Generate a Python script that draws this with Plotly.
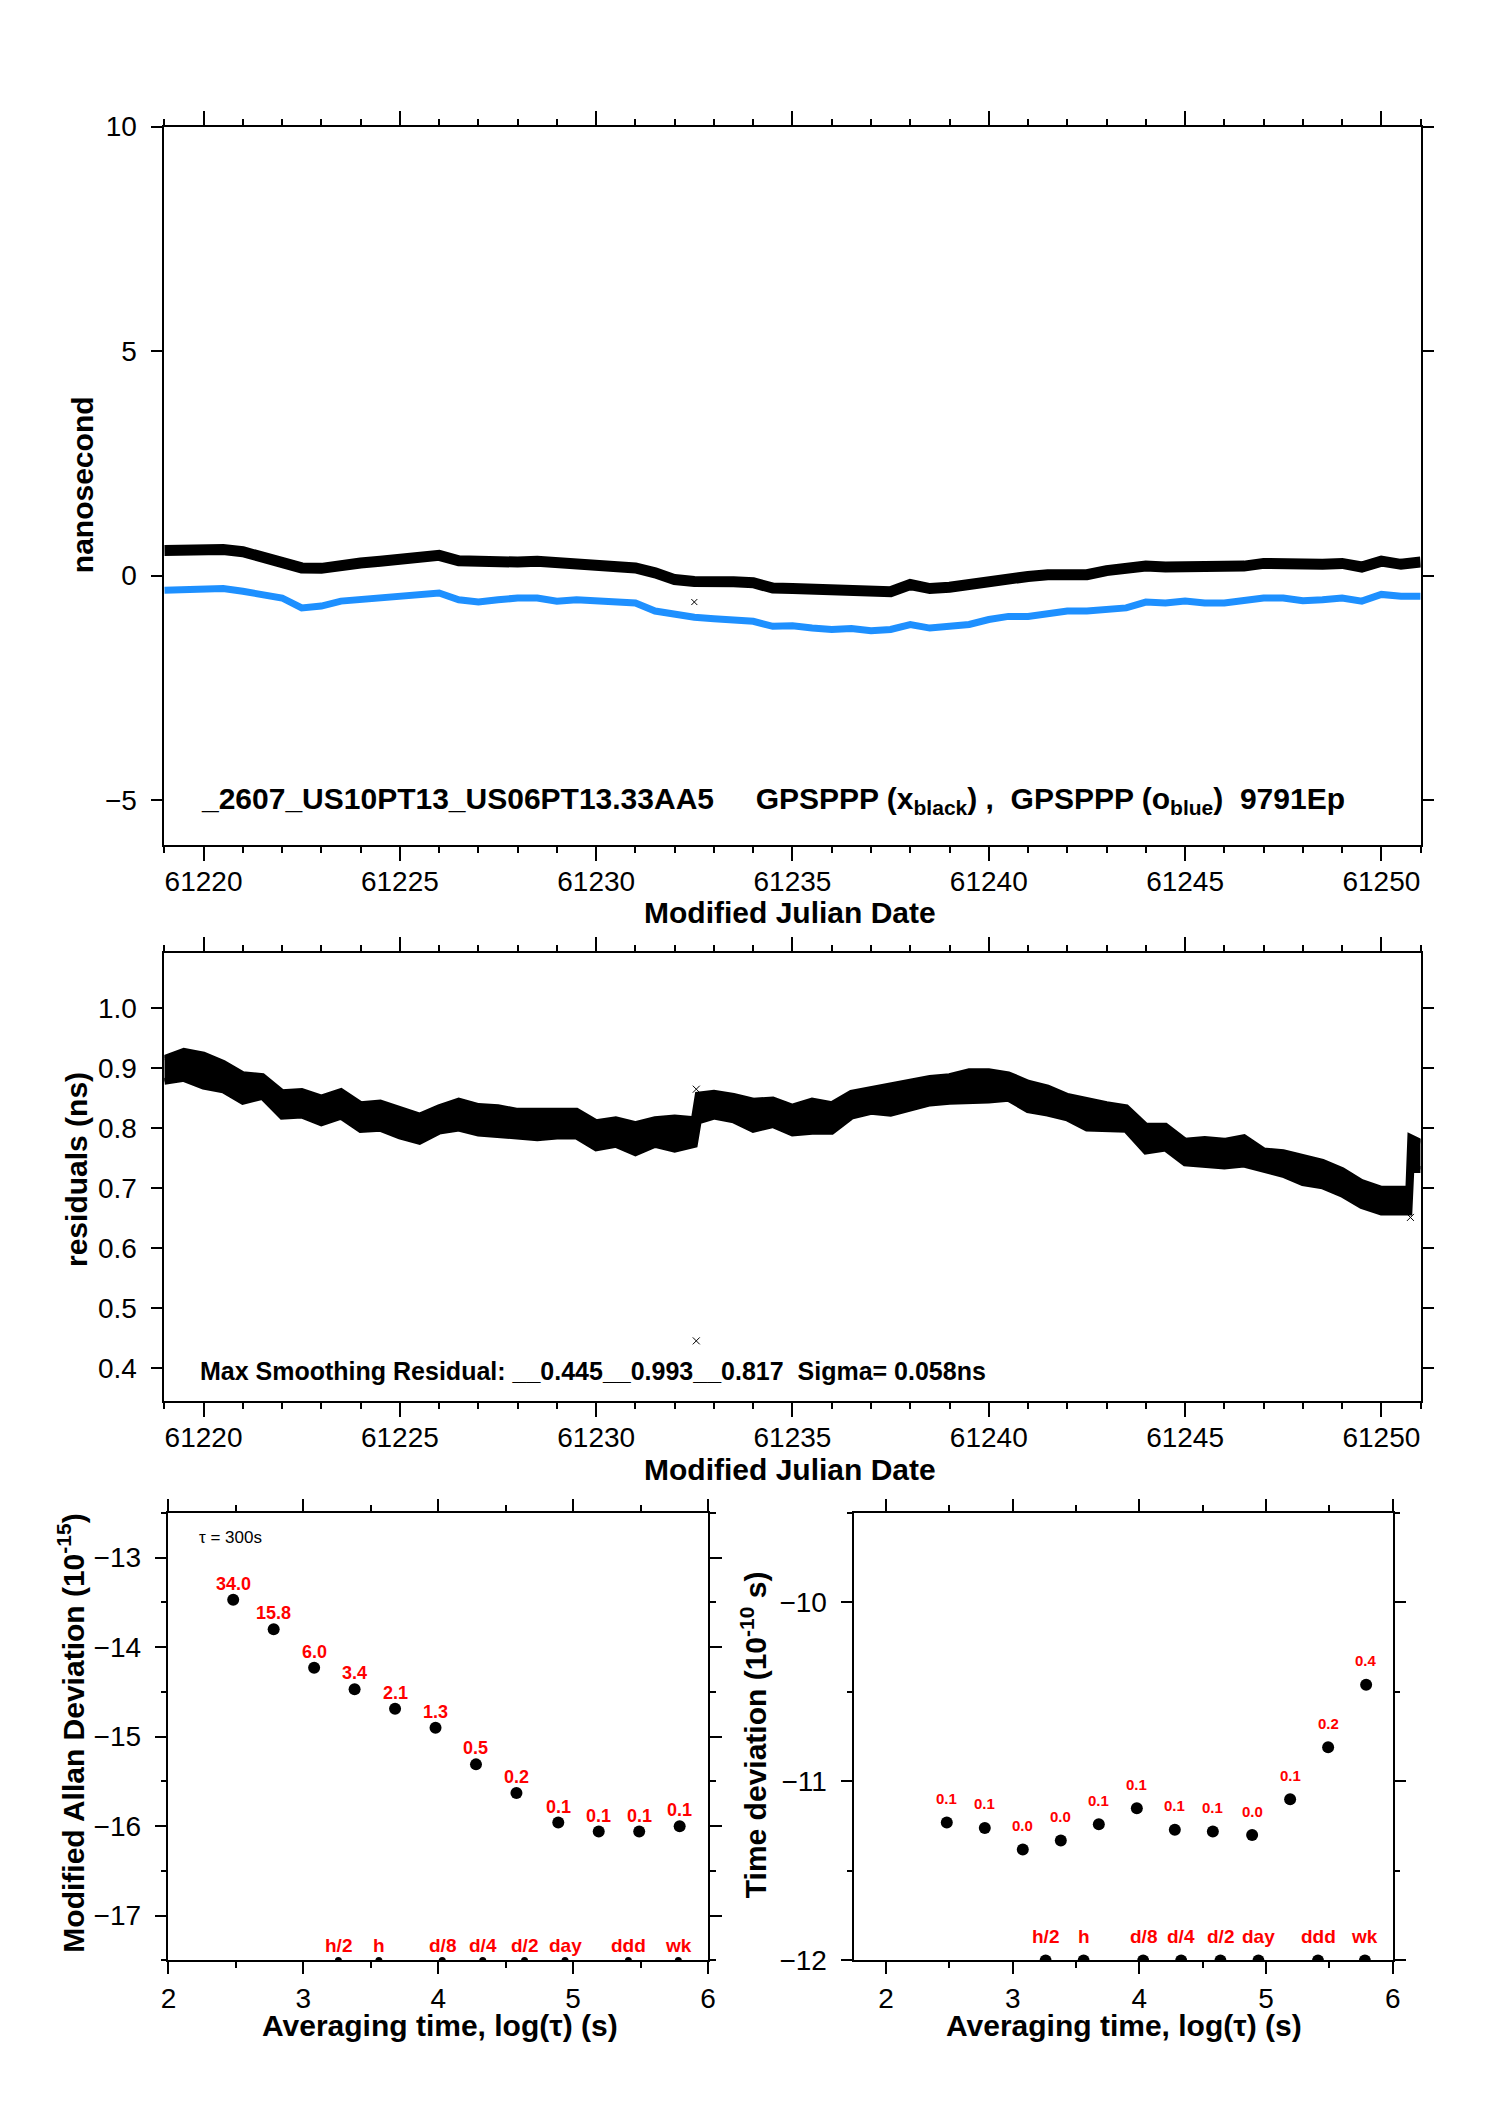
import plotly.graph_objects as go

# ---- data ----
# top panel: two clock-comparison series (ns), sampled every half day
MJD = [61219.0, 61219.5, 61220.0, 61220.5, 61221.0, 61221.5, 61222.0, 61222.5,
       61223.0, 61223.5, 61224.0, 61224.5, 61225.0, 61225.5, 61226.0, 61226.5,
       61227.0, 61227.5, 61228.0, 61228.5, 61229.0, 61229.5, 61230.0, 61230.5,
       61231.0, 61231.5, 61232.0, 61232.5, 61233.0, 61233.5, 61234.0, 61234.5,
       61235.0, 61235.5, 61236.0, 61236.5, 61237.0, 61237.5, 61238.0, 61238.5,
       61239.0, 61239.5, 61240.0, 61240.5, 61241.0, 61241.5, 61242.0, 61242.5,
       61243.0, 61243.5, 61244.0, 61244.5, 61245.0, 61245.5, 61246.0, 61246.5,
       61247.0, 61247.5, 61248.0, 61248.5, 61249.0, 61249.5, 61250.0, 61250.5,
       61251.0]
BLACK_NS = [0.56, 0.58, 0.62, 0.58, 0.53, 0.41, 0.28, 0.17, 0.16, 0.25, 0.28,
            0.32, 0.36, 0.39, 0.45, 0.33, 0.32, 0.27, 0.30, 0.32, 0.28, 0.27,
            0.25, 0.22, 0.17, 0.06, -0.09, -0.13, -0.11, -0.14, -0.16, -0.28,
            -0.29, -0.31, -0.33, -0.35, -0.35, -0.36, -0.20, -0.29, -0.26,
            -0.20, -0.11, -0.02, -0.02, 0.02, 0.04, 0.02, 0.11, 0.16, 0.21,
            0.19, 0.19, 0.17, 0.19, 0.21, 0.27, 0.25, 0.22, 0.25, 0.27, 0.19,
            0.32, 0.25, 0.30]
BLUE_NS = [-0.33, -0.31, -0.28, -0.29, -0.35, -0.41, -0.50, -0.72, -0.68,
           -0.57, -0.54, -0.50, -0.46, -0.42, -0.39, -0.54, -0.59, -0.54,
           -0.50, -0.50, -0.57, -0.54, -0.57, -0.61, -0.61, -0.79, -0.87,
           -0.93, -0.96, -0.98, -1.02, -1.13, -1.12, -1.17, -1.20, -1.18,
           -1.23, -1.20, -1.09, -1.17, -1.13, -1.09, -0.98, -0.91, -0.91,
           -0.85, -0.79, -0.79, -0.76, -0.72, -0.59, -0.61, -0.57, -0.61,
           -0.61, -0.57, -0.50, -0.50, -0.56, -0.54, -0.50, -0.57, -0.42,
           -0.46, -0.46]
OUT_TOP_X = [61232.5]
OUT_TOP_Y = [-0.59]

# middle panel: upper / lower edge of the residual band (ns)
RES_MJD = [61219.0, 61219.5, 61220.0, 61220.5, 61221.0, 61221.5, 61222.0,
           61222.5, 61223.0, 61223.5, 61224.0, 61224.5, 61225.0, 61225.5,
           61226.0, 61226.5, 61227.0, 61227.5, 61228.0, 61228.5, 61229.0,
           61229.5, 61230.0, 61230.5, 61231.0, 61231.5, 61232.0, 61232.5,
           61232.6, 61233.0, 61233.5, 61234.0, 61234.5, 61235.0, 61235.5,
           61236.0, 61236.5, 61237.0, 61237.5, 61238.0, 61238.5, 61239.0,
           61239.5, 61240.0, 61240.5, 61241.0, 61241.5, 61242.0, 61242.5,
           61243.0, 61243.5, 61244.0, 61244.5, 61245.0, 61245.5, 61246.0,
           61246.5, 61247.0, 61247.5, 61248.0, 61248.5, 61249.0, 61249.5,
           61250.0, 61250.5, 61250.7, 61250.75, 61251.0]
RES_HI = [0.916, 0.928, 0.922, 0.908, 0.889, 0.886, 0.859, 0.861, 0.850,
          0.861, 0.839, 0.842, 0.831, 0.820, 0.834, 0.845, 0.836, 0.834,
          0.828, 0.828, 0.828, 0.828, 0.809, 0.814, 0.806, 0.814, 0.817,
          0.814, 0.855, 0.858, 0.853, 0.845, 0.847, 0.835, 0.845, 0.839,
          0.858, 0.864, 0.870, 0.875, 0.883, 0.886, 0.894, 0.894, 0.889,
          0.875, 0.867, 0.853, 0.845, 0.839, 0.834, 0.803, 0.803, 0.778,
          0.781, 0.778, 0.784, 0.762, 0.759, 0.751, 0.743, 0.729, 0.709,
          0.698, 0.698, 0.698, 0.784, 0.776]
RES_LO = [0.878, 0.883, 0.870, 0.864, 0.845, 0.853, 0.820, 0.822, 0.809,
          0.820, 0.798, 0.800, 0.787, 0.778, 0.795, 0.800, 0.792, 0.789,
          0.787, 0.784, 0.787, 0.787, 0.767, 0.773, 0.759, 0.773, 0.765,
          0.773, 0.812, 0.820, 0.814, 0.798, 0.806, 0.792, 0.795, 0.795,
          0.820, 0.828, 0.825, 0.834, 0.842, 0.845, 0.845, 0.847, 0.850,
          0.831, 0.825, 0.817, 0.800, 0.798, 0.798, 0.762, 0.767, 0.742,
          0.740, 0.737, 0.740, 0.731, 0.723, 0.709, 0.704, 0.690, 0.671,
          0.660, 0.662, 0.660, 0.731, 0.731]
OUT_RES_X = [61232.55, 61232.55, 61250.74]
OUT_RES_Y = [0.445, 0.865, 0.651]

# bottom panels: stability vs averaging time
LOG_TAU = [2.48, 2.78, 3.08, 3.38, 3.68, 3.98, 4.28, 4.58, 4.89, 5.19, 5.49, 5.79]
LOG_MDEV = [-13.47, -13.80, -14.23, -14.47, -14.69, -14.90, -15.31, -15.63,
            -15.96, -16.06, -16.06, -16.00]
MDEV_LBL = ["34.0", "15.8", "6.0", "3.4", "2.1", "1.3", "0.5", "0.2",
            "0.1", "0.1", "0.1", "0.1"]
LOG_TDEV = [-11.23, -11.26, -11.38, -11.33, -11.24, -11.15, -11.27, -11.28,
            -11.30, -11.10, -10.81, -10.46]
TDEV_LBL = ["0.1", "0.1", "0.0", "0.0", "0.1", "0.1", "0.1", "0.1",
            "0.0", "0.1", "0.2", "0.4"]
MARK_LOG = [3.26, 3.56, 4.03, 4.33, 4.64, 4.94, 5.41, 5.78]
MARK_LBL = ["h/2", "h", "d/8", "d/4", "d/2", "day", "ddd", "wk"]

FONT = "Liberation Sans, Arial, sans-serif"
BLUE = "#1E90FF"
RED = "#FF0000"
W, H = 1488, 2105


def px(x):
    return x / W


def py(y):
    return 1 - y / H


def axis(domain, rng, dtick, tick0=None, minor=None, fmt=None, ticklen=12,
         anchor=None, standoff=8):
    """"""
    ax = dict(
        domain=domain, range=rng, dtick=dtick, tick0=tick0,
        showline=True, linecolor="black", linewidth=1.5, mirror="ticks",
        ticks="outside", ticklen=ticklen, tickwidth=1.5, tickcolor="black",
        showgrid=False, zeroline=False, anchor=anchor,
        tickfont=dict(family=FONT, size=28, color="black"),
        ticklabelstandoff=standoff,
    )
    if fmt:
        ax["tickformat"] = fmt
    if minor:
        ax["minor"] = dict(dtick=minor, ticks="outside", ticklen=6,
                           tickwidth=1.5, tickcolor="black", showgrid=False)
    return ax


fig = go.Figure()

# top panel
fig.add_trace(go.Scatter(x=MJD, y=BLUE_NS, mode="lines",
                         line=dict(color=BLUE, width=7), xaxis="x", yaxis="y"))
fig.add_trace(go.Scatter(x=MJD, y=BLACK_NS, mode="lines",
                         line=dict(color="black", width=11), xaxis="x", yaxis="y"))
fig.add_trace(go.Scatter(x=OUT_TOP_X, y=OUT_TOP_Y, mode="markers",
                         marker=dict(symbol="x-thin", size=6,
                                     line=dict(color="black", width=1)),
                         xaxis="x", yaxis="y"))

# middle panel: residual band
fig.add_trace(go.Scatter(x=RES_MJD, y=RES_LO, mode="lines",
                         line=dict(color="black", width=7), xaxis="x2", yaxis="y2"))
fig.add_trace(go.Scatter(x=RES_MJD, y=RES_HI, mode="lines", fill="tonexty",
                         fillcolor="black", line=dict(color="black", width=7),
                         xaxis="x2", yaxis="y2"))
fig.add_trace(go.Scatter(x=OUT_RES_X, y=OUT_RES_Y, mode="markers",
                         marker=dict(symbol="x-thin", size=7,
                                     line=dict(color="black", width=1)),
                         xaxis="x2", yaxis="y2"))

# bottom left: modified Allan deviation
fig.add_trace(go.Scatter(x=LOG_TAU, y=LOG_MDEV, mode="markers",
                         marker=dict(color="black", size=12),
                         xaxis="x3", yaxis="y3"))
fig.add_trace(go.Scatter(x=MARK_LOG, y=[-17.5] * len(MARK_LOG), mode="markers",
                         marker=dict(color="black", size=7), cliponaxis=True,
                         xaxis="x3", yaxis="y3"))

# bottom right: time deviation
fig.add_trace(go.Scatter(x=LOG_TAU, y=LOG_TDEV, mode="markers",
                         marker=dict(color="black", size=12),
                         xaxis="x4", yaxis="y4"))
fig.add_trace(go.Scatter(x=MARK_LOG, y=[-12] * len(MARK_LOG), mode="markers",
                         marker=dict(color="black", size=12), cliponaxis=True,
                         xaxis="x4", yaxis="y4"))

ann = []
bold = dict(family=FONT, color="black", weight="bold")
red = dict(family=FONT, color=RED, weight="bold")

for t, v, s in zip(LOG_TAU, LOG_MDEV, MDEV_LBL):
    ann.append(dict(x=t, y=v, xref="x3", yref="y3", text=s, showarrow=False,
                    yshift=16, font=dict(red, size=18)))
for t, v, s in zip(LOG_TAU, LOG_TDEV, TDEV_LBL):
    ann.append(dict(x=t, y=v, xref="x4", yref="y4", text=s, showarrow=False,
                    yshift=24, font=dict(red, size=15)))
for t, s in zip(MARK_LOG, MARK_LBL):
    ann.append(dict(x=t, y=-17.5, xref="x3", yref="y3", text=s, showarrow=False,
                    yshift=15, font=dict(red, size=19)))
    ann.append(dict(x=t, y=-12, xref="x4", yref="y4", text=s, showarrow=False,
                    yshift=24, font=dict(red, size=19)))

sp = "\u00a0"
ann += [
    dict(x=61219.88, y=-5, xref="x", yref="y", xanchor="left", yanchor="middle",
         showarrow=False,
         text="_2607_US10PT13_US06PT13.33AA5" + sp * 5 + "GPSPPP (x<sub>black</sub>)"
              + sp + "," + sp * 2 + "GPSPPP (o<sub>blue</sub>)" + sp * 2 + "9791Ep",
         font=dict(bold, size=30)),
    dict(x=61219.86, y=0.394, xref="x2", yref="y2", xanchor="left",
         yanchor="middle", showarrow=False,
         text="Max Smoothing Residual: __0.445__0.993__0.817" + sp * 2
              + "Sigma= 0.058ns",
         font=dict(bold, size=25)),
    dict(x=2.21, y=-12.78, xref="x3", yref="y3", xanchor="left", yanchor="middle",
         showarrow=False, text="\u03c4 = 300s",
         font=dict(family=FONT, size=17, color="black")),
]

titles = [
    (790, 911, 0, "Modified Julian Date"),
    (790, 1476, 0, "Modified Julian Date"),
    (76, 477, -90, "nanosecond"),
    (69, 1172, -90, "residuals (ns)"),
    (64, 1744, -90, "Modified Allan Deviation (10<sup>-15</sup>)"),
    (754, 1745, -90, "Time deviation (10<sup>-10</sup> s)"),
    (437, 2041, 0, "Averaging time, log(\u03c4) (s)"),
    (1128, 2041, 0, "Averaging time, log(\u03c4) (s)"),
]
for x, y, ang, s in titles:
    ann.append(dict(x=px(x), y=py(y), xref="paper", yref="paper",
                    xanchor="center", yanchor="middle", showarrow=False,
                    textangle=ang, text=s, font=dict(bold, size=30)))

top_x = [px(158), px(1428)]
fig.update_layout(
    width=W, height=H, margin=dict(l=0, r=0, t=0, b=0),
    paper_bgcolor="white", plot_bgcolor="white", showlegend=False,
    font=dict(family=FONT, color="black"),
    xaxis=axis(top_x, [61219, 61251], 5, 61220, minor=1, fmt="d", ticklen=14,
               anchor="y", standoff=-3),
    yaxis=axis([py(842.3), py(113.3)], [-6, 10], 5, 0, anchor="x"),
    xaxis2=axis(top_x, [61219, 61251], 5, 61220, minor=1, fmt="d", ticklen=14,
                anchor="y2", standoff=-3),
    yaxis2=axis([py(1406.5), py(952.2)], [0.345, 1.092], 0.1, 0.4, fmt=".1f",
                anchor="x2"),
    xaxis3=axis([px(162.2), px(707.6)], [2, 6], 1, 2, minor=0.5, anchor="y3",
                standoff=0),
    yaxis3=axis([py(1974.5), py(1520.2)], [-17.5, -12.5], 1, -17, minor=0.5,
                anchor="x3"),
    xaxis4=axis([px(855.5), px(1399.8)], [1.75, 6], 1, 2, minor=0.5, anchor="y4",
                standoff=0),
    yaxis4=axis([py(1974.5), py(1520.2)], [-12, -9.5], 1, -12, minor=0.5,
                anchor="x4"),
    annotations=ann,
)

fig.write_html("out.html", config={"displayModeBar": False},
               post_script="document.body.style.margin='0';")
